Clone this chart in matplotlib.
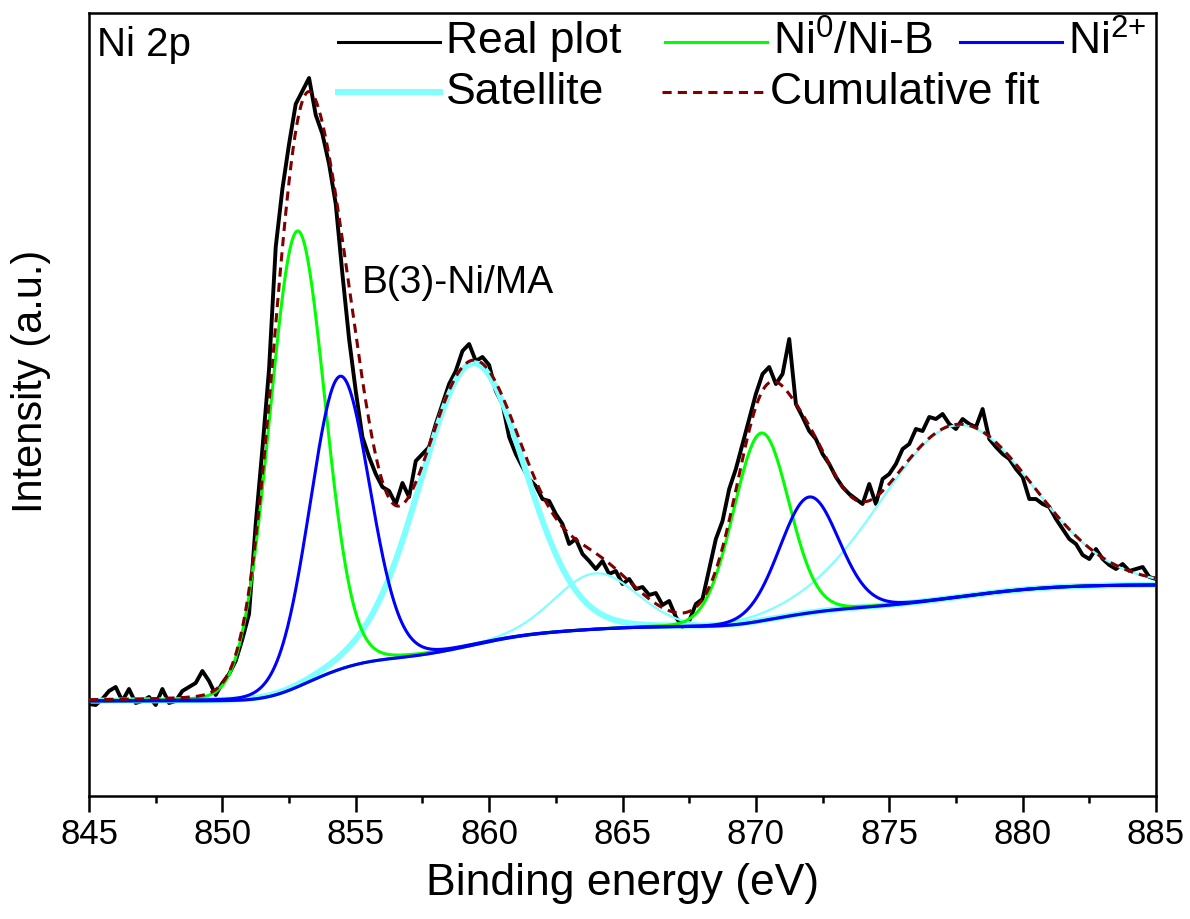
import numpy as np
import matplotlib
matplotlib.use("Agg")
import matplotlib.pyplot as plt

plt.rcParams["font.family"] = ["Liberation Sans", "DejaVu Sans"]
plt.rcParams["mathtext.fontset"] = "custom"
plt.rcParams["mathtext.rm"] = "Liberation Sans"
plt.rcParams["mathtext.it"] = "Liberation Sans:italic"

# Ni 2p spectrum, 0.25 eV steps from 845 to 885 eV (intensity in a.u.)
energy = np.linspace(845.0, 885.0, 161)
intensity = [
    92, 91, 97, 105, 109, 95, 107, 93, 95, 99,
    91, 107, 93, 95, 105, 109, 113, 125, 115, 101,
    113, 122, 135, 157, 182, 272, 347, 427, 549, 607,
    652, 692, 705, 718, 681, 662, 632, 592, 522, 457,
    405, 359, 339, 322, 309, 305, 292, 313, 299, 335,
    342, 349, 372, 392, 412, 425, 445, 452, 435, 439,
    431, 405, 392, 359, 342, 329, 317, 310, 297, 295,
    282, 272, 252, 257, 242, 235, 227, 235, 222, 225,
    212, 217, 207, 209, 201, 203, 191, 195, 179, 169,
    175, 192, 197, 227, 257, 275, 307, 327, 352, 377,
    402, 422, 429, 412, 422, 457, 392, 379, 365, 357,
    342, 332, 319, 309, 302, 297, 292, 312, 292, 317,
    322, 332, 347, 352, 367, 365, 379, 377, 382, 372,
    367, 377, 372, 369, 387, 357, 349, 342, 337, 327,
    319, 297, 297, 292, 289, 277, 267, 257, 252, 241,
    237, 247, 237, 231, 227, 232, 225, 227, 229, 219,
    217,
]

# fitted components: Ni0 3/2, Ni2+ 3/2, sat, sat, Ni0 1/2, Ni2+ 1/2, sat
peak_names = ["ni0", "ni2", "sat", "sat", "ni0", "ni2", "sat"]
peak_centers = [852.8, 854.4, 859.35, 864.0, 870.2, 872.0, 877.5]
peak_heights = [456, 293, 282, 56, 188, 116, 172]
peak_fwhm = [2.45, 2.62, 4.6, 3.6, 2.45, 2.6, 6.7]
peak_lorentz = [0.05, 0.05, 0.05, 0.05, 0.05, 0.05, 0.05]
bg_start, bg_end = 95, 211


def pseudo_voigt(x, c, h, w, m):
    g = np.exp(-4 * np.log(2) * (x - c) ** 2 / w ** 2)
    l = 1.0 / (1 + 4 * (x - c) ** 2 / w ** 2)
    return h * ((1 - m) * g + m * l)


xf = np.linspace(845, 885, 1601)
peaks = [pseudo_voigt(xf, c, h, w, m) for c, h, w, m in
         zip(peak_centers, peak_heights, peak_fwhm, peak_lorentz)]
total = np.sum(peaks, axis=0)
# Shirley-type background follows the integrated peak area
cum = np.cumsum(total)
background = bg_start + (bg_end - bg_start) * cum / cum[-1]
fit = background + total

fig = plt.figure(figsize=(11.9, 9.19), dpi=100)
L, R, T, B = 89, 1156, 13, 796
ax = fig.add_axes([L / 1190, 1 - B / 919, (R - L) / 1190, (B - T) / 919])

ax.plot(energy, intensity, color="black", lw=2.8, zorder=1)
styles = {
    "ni0": dict(color="#00ff00", lw=2.2, zorder=4),
    "ni2": dict(color="#0000ff", lw=2.2, zorder=5),
}
for i, (name, p) in enumerate(zip(peak_names, peaks)):
    if name == "sat":
        st = dict(color="#80ffff", lw=4.3 if i == 2 else 1.6, zorder=2 if i == 2 else 3)
    else:
        st = styles[name]
    ax.plot(xf, background + p, **st)
ax.plot(xf, fit, color="#7f0000", lw=2.2, ls=(0, (3, 2)), zorder=6)

ax.set_xlim(845, 885)
ax.set_ylim(0, 783)
ax.set_xticks(np.arange(845, 886, 5))
ax.set_xticks(np.arange(847.5, 885, 5), minor=True)
ax.set_yticks([])
ax.tick_params(axis="x", which="major", direction="out", length=11.5, width=1.8,
               labelsize=25, pad=4)
ax.tick_params(axis="x", which="minor", direction="out", length=5, width=1.8)
for sp in ax.spines.values():
    sp.set_linewidth(1.8)

ax.set_xlabel("Binding energy (eV)", fontsize=32)
ax.xaxis.set_label_coords(0.5, -0.085)
ax.set_ylabel("Intensity (a.u.)", fontsize=30)
ax.yaxis.set_label_coords(-0.036, 0.53)


def frac(px, py):
    return (px - L) / (R - L), (B - py) / (B - T)


ax.text(*frac(97, 45), "Ni 2p", fontsize=29, va="center", ha="left", transform=ax.transAxes)
ax.text(*frac(362, 283), "B(3)-Ni/MA", fontsize=28, va="center", ha="left",
        transform=ax.transAxes)

# legend entries: label, style, handle start x, row y
legend_items = [
    ("Real plot", dict(color="black", lw=2.2), 338, 42),
    ("Ni$^{\\mathregular{0}}$/Ni-B", dict(color="#00ff00", lw=2.2), 665, 42),
    ("Ni$^{\\mathregular{2{+}}}$", dict(color="#0000ff", lw=2.2), 960, 42),
    ("Satellite", dict(color="#80ffff", lw=4.3), 338, 92),
    ("Cumulative fit", dict(color="#7f0000", lw=2.2, ls=(0, (3, 2))), 662, 92),
]
for label, st, hx, hy in legend_items:
    x0, y0 = frac(hx, hy)
    x1, _ = frac(hx + 102, hy)
    ax.plot([x0, x1], [y0, y0], transform=ax.transAxes, clip_on=False, **st)
    ax.text(*frac(hx + 108, hy), label, fontsize=32, va="center", ha="left",
            transform=ax.transAxes)

fig.savefig("out.png", dpi=100)
